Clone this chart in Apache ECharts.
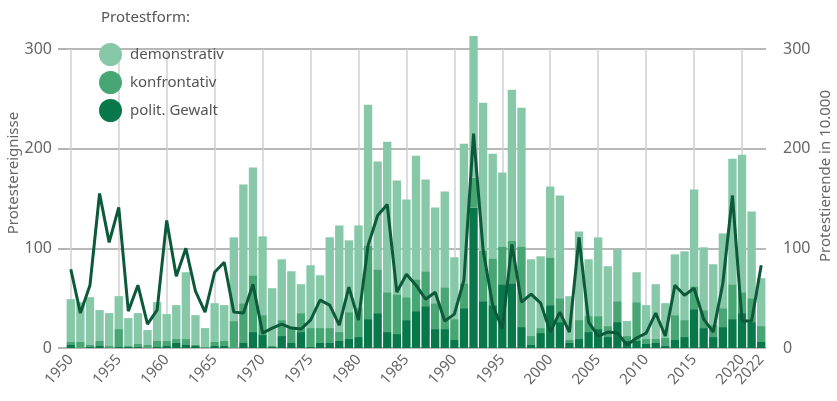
<!DOCTYPE html>
<html>
<head>
<meta charset="utf-8">
<script src="https://cdn.jsdelivr.net/npm/echarts@6/dist/echarts.min.js"></script>
<style>
  html, body { margin: 0; padding: 0; background: #fff; }
  #chart { width: 837px; height: 401px; }
</style>
</head>
<body>
<div id="chart"></div>
<script>
// Jahre 1950 - 2022
const years = [];
for (let y = 1950; y <= 2022; y++) years.push(String(y));

// Gesamthoehe der Balken (Protestereignisse)
const total = [49,46,51,38,35,52,30,35,18,46, 34,43,76,33,20,45,43,111,164,181,
  112,60,89,77,64,83,73,111,123,108, 123,244,187,207,168,149,193,169,141,157,
  91,205,313,246,195,176,259,241,89,92, 162,153,52,117,89,111,82,99,27,76,
  43,64,45,94,97,159,101,84,115,190, 194,137,70];
// Oberkante konfrontativ (= Gewalt + konfrontativ)
const midTop = [6,6,3,7,2,19,2,4,3,7, 7,9,9,3,1,6,7,27,45,73,
  33,2,28,20,35,20,20,20,16,36, 40,103,79,56,54,51,69,77,45,61,
  29,65,171,98,90,102,108,102,12,20, 91,50,8,28,32,32,22,47,12,46,
  9,9,10,33,28,62,38,23,40,64, 56,50,22];
// polit. Gewalt
const gewalt = [3,0,1,2,0,1,1,1,0,1, 2,5,3,2,0,2,2,0,5,16,
  13,1,12,5,16,1,5,5,7,9, 11,29,35,16,14,28,37,42,19,19,
  8,40,141,47,43,64,65,21,3,15, 43,26,5,9,16,19,11,26,7,7,
  4,5,2,8,11,39,20,11,21,29, 35,26,6];
// Protestierende in 10.000
const teilnehmer = [79,35,63,155,106,141,37,63,24,38, 128,72,100,57,36,76,86,36,35,64,
  15,20,24,20,19,28,48,43,23,61, 28,103,133,144,56,74,63,49,56,27,
  34,68,215,98,43,19,104,46,54,45, 16,36,16,111,26,12,16,15,3,10,
  15,35,12,63,53,60,29,16,65,153, 27,27,83];

const konfrontativ = midTop.map((v, i) => v - gewalt[i]);
const demonstrativ = total.map((v, i) => v - midTop[i]);

const FONT = 'Noto Sans';
const GREY = '#666';
const lastIdx = years.length - 1;

const yearLabel = {
  hideOverlap: false,
  showMinLabel: true,
  showMaxLabel: true,
  rotate: 48,
  fontSize: 15,
  color: GREY,
  margin: 9,
  fontFamily: FONT
};

const chart = echarts.init(document.getElementById('chart'));
chart.setOption({
  animation: false,
  textStyle: { fontFamily: FONT },
  title: {
    text: 'Protestform:',
    left: 96,
    top: 5,
    textStyle: { fontSize: 15, fontWeight: 'normal', color: '#555', fontFamily: FONT }
  },
  legend: {
    orient: 'vertical',
    left: 94,
    top: 38,
    icon: 'circle',
    itemWidth: 23,
    itemHeight: 23,
    itemGap: 5,
    data: ['demonstrativ', 'konfrontativ', 'polit. Gewalt'],
    textStyle: { fontSize: 15, color: '#555', fontFamily: FONT, padding: [0, 0, 0, 3] }
  },
  graphic: [
    {
      type: 'text', rotation: Math.PI / 2,
      x: 14, y: 173,
      style: { text: 'Protestereignisse', fontSize: 15, fill: GREY, fontFamily: FONT, align: 'center', verticalAlign: 'middle' }
    },
    {
      type: 'text', rotation: Math.PI / 2,
      x: 826, y: 176,
      style: { text: 'Protestierende in 10.000', fontSize: 15, fill: GREY, fontFamily: FONT, align: 'center', verticalAlign: 'middle' }
    }
  ],
  grid: { left: 66, right: 71, top: 49, bottom: 53 },
  xAxis: [
    {
      type: 'category',
      data: years,
      axisLine: { show: false },
      axisTick: {
        alignWithLabel: true,
        interval: (i) => i % 5 === 0,
        length: 7,
        lineStyle: { color: '#999', width: 1.5 }
      },
      splitLine: {
        show: true,
        alignWithLabel: true,
        interval: (i) => i % 5 === 0,
        lineStyle: { color: '#d0d0d0', width: 1.5 }
      },
      axisLabel: Object.assign({ interval: (i) => i % 5 === 0 }, yearLabel)
    },
    {
      // nur fuer das Label 2022
      type: 'category',
      data: years,
      position: 'bottom',
      axisLine: { show: false },
      axisTick: { show: false },
      splitLine: { show: false },
      axisLabel: Object.assign({ interval: (i) => i === lastIdx }, yearLabel)
    }
  ],
  yAxis: [
    {
      type: 'value', min: 0, max: 300, interval: 100,
      axisLine: { show: false },
      axisTick: { show: true, length: 8, lineStyle: { color: '#999', width: 1.5 } },
      splitLine: { lineStyle: { color: '#a0a0a0', width: 1.5 } },
      axisLabel: { fontSize: 16, color: GREY, margin: 14, fontFamily: FONT }
    },
    {
      type: 'value', min: 0, max: 300, interval: 100,
      axisLine: { show: false },
      axisTick: { show: false },
      splitLine: { show: false },
      axisLabel: { fontSize: 16, color: GREY, margin: 17, fontFamily: FONT }
    }
  ],
  series: [
    {
      name: 'polit. Gewalt', type: 'bar', stack: 'p',
      barCategoryGap: '13%', clip: false,
      itemStyle: { color: '#08784a' },
      data: gewalt
    },
    {
      name: 'konfrontativ', type: 'bar', stack: 'p', clip: false,
      itemStyle: { color: '#48a674' },
      data: konfrontativ
    },
    {
      name: 'demonstrativ', type: 'bar', stack: 'p', clip: false,
      itemStyle: { color: '#86c8a8' },
      data: demonstrativ
    },
    {
      name: 'Protestierende', type: 'line', yAxisIndex: 1,
      symbol: 'none', z: 5, clip: false,
      lineStyle: { color: '#0c5a3a', width: 3 },
      data: teilnehmer
    }
  ]
});
</script>
</body>
</html>
